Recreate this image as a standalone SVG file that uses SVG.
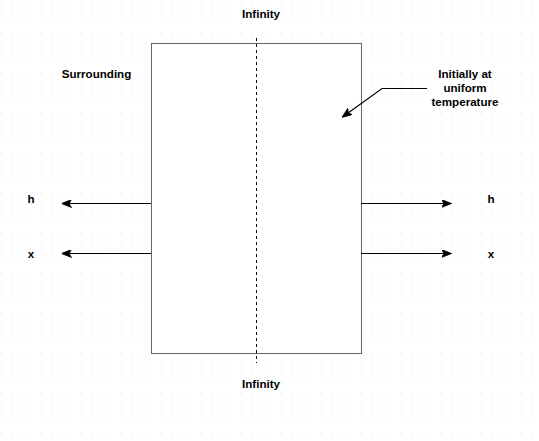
<svg xmlns="http://www.w3.org/2000/svg" width="539" height="441" viewBox="0 0 539 441">
<defs>
<pattern id="grid" x="0.5" y="2.5" width="10" height="10" patternUnits="userSpaceOnUse">
<rect x="0.5" y="0.5" width="1" height="1" fill="#d0d0d0"/>
</pattern>
<marker id="arr" viewBox="0 0 10 8" refX="9.5" refY="4" markerWidth="10" markerHeight="8" markerUnits="userSpaceOnUse" orient="auto">
<path d="M0,0 L10,4 L0,8 L2.5,4 Z" fill="#000" stroke="#000" stroke-width="0.8"/>
</marker>
<style>
.lbl{font-family:"Liberation Sans",Arial,sans-serif;font-size:11.6px;font-weight:bold;fill:#000;text-anchor:middle}
.edge{stroke:#000;stroke-width:1.2;fill:none;marker-end:url(#arr)}
</style>
</defs>
<rect width="539" height="441" fill="#fff"/>
<rect width="539" height="441" fill="url(#grid)"/>
<g id="body">
<rect x="151.5" y="43.5" width="210" height="310" fill="#fff" stroke="#666" stroke-width="1"/>
</g>
<g id="labels">
<g id="infinity-top"><text class="lbl" x="261" y="18">Infinity</text></g>
<g id="infinity-bottom"><text class="lbl" x="261" y="388">Infinity</text></g>
<g id="surrounding"><text class="lbl" x="96.5" y="78">Surrounding</text></g>
<g id="initially"><text class="lbl" x="465" y="78">Initially at</text><text class="lbl" x="465" y="92">uniform</text><text class="lbl" x="465" y="106">temperature</text></g>
<g id="h-left"><text class="lbl" x="31" y="203">h</text></g>
<g id="x-left"><text class="lbl" x="31" y="258">x</text></g>
<g id="h-right"><text class="lbl" x="491" y="203">h</text></g>
<g id="x-right"><text class="lbl" x="491" y="258">x</text></g>
</g>
<g id="connectors">
<line x1="256.5" y1="38" x2="256.5" y2="363" stroke="#000" stroke-width="1" stroke-dasharray="3,3"/>
<line class="edge" x1="151" y1="203.5" x2="62" y2="203.5"/>
<line class="edge" x1="151" y1="253.5" x2="62" y2="253.5"/>
<line class="edge" x1="361" y1="203.5" x2="451" y2="203.5"/>
<line class="edge" x1="361" y1="253.5" x2="451" y2="253.5"/>
<polyline class="edge" points="427,88.5 382,88.5 342.5,117"/>
</g>
</svg>
